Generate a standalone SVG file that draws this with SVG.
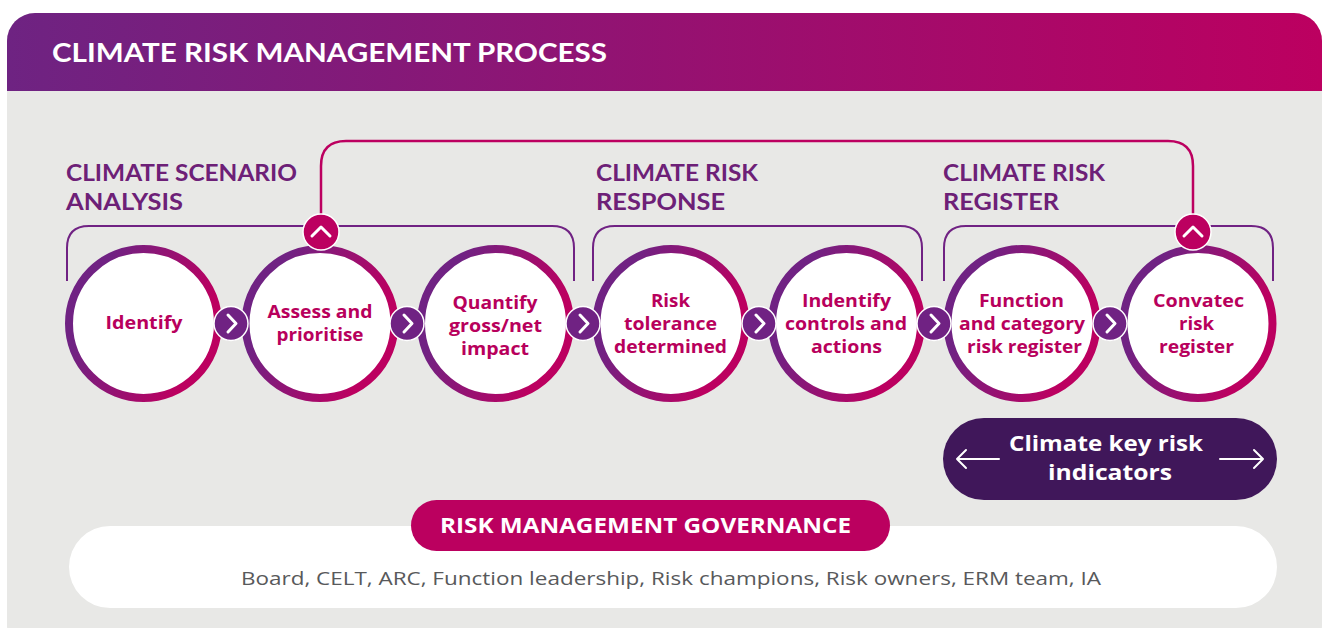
<svg xmlns="http://www.w3.org/2000/svg" width="1324" height="628" viewBox="0 0 1324 628">
<defs>
<linearGradient id="hdr" x1="0" y1="0" x2="1" y2="0">
<stop offset="0" stop-color="#6e2382"/>
<stop offset="1" stop-color="#bc0060"/>
</linearGradient>
<linearGradient id="ring" x1="0" y1="0.3" x2="1" y2="0.7">
<stop offset="0.15" stop-color="#702283"/>
<stop offset="0.85" stop-color="#bc0060"/>
</linearGradient>
<clipPath id="panelClip">
<rect x="7" y="13" width="1315" height="640" rx="28"/>
</clipPath>
<style>
.ring{fill:#ffffff;stroke:url(#ring);stroke-width:8}
.step{fill:#702283;stroke:#ffffff;stroke-width:1.5}
.up{fill:#bc0060;stroke:#ffffff;stroke-width:1.5}
.chev{fill:none;stroke:#ffffff;stroke-width:3;stroke-linecap:round;stroke-linejoin:round}
.brk{fill:none;stroke:#702283;stroke-width:2}
.brkM{fill:none;stroke:#bc0060;stroke-width:2.5}
.sec{font-family:Lato,"Liberation Sans",sans-serif;font-weight:700;font-size:23.5px;fill:#6d2077}
.ct{font-family:"Open Sans","Liberation Sans",sans-serif;font-weight:700;font-size:17.5px;fill:#b8005c;text-anchor:middle}
.wt{font-family:"Open Sans","Liberation Sans",sans-serif;font-weight:700;fill:#ffffff;text-anchor:middle}
</style>
</defs>
<g id="panel" clip-path="url(#panelClip)">
<rect x="7" y="13" width="1315" height="640" fill="#e8e8e6"/>
<rect x="7" y="13" width="1315" height="78" fill="url(#hdr)"/>
<text x="52" y="62" font-family="Lato,'Liberation Sans',sans-serif" font-weight="700" font-size="26" fill="#ffffff" textLength="555" lengthAdjust="spacingAndGlyphs">CLIMATE RISK MANAGEMENT PROCESS</text>
</g>
<g id="section-titles">
<text class="sec" x="66" y="181" textLength="231" lengthAdjust="spacingAndGlyphs">CLIMATE SCENARIO</text>
<text class="sec" x="66" y="210" textLength="117" lengthAdjust="spacingAndGlyphs">ANALYSIS</text>
<text class="sec" x="596" y="181" textLength="162" lengthAdjust="spacingAndGlyphs">CLIMATE RISK</text>
<text class="sec" x="596" y="210" textLength="129" lengthAdjust="spacingAndGlyphs">RESPONSE</text>
<text class="sec" x="943" y="181" textLength="162" lengthAdjust="spacingAndGlyphs">CLIMATE RISK</text>
<text class="sec" x="943" y="210" textLength="116" lengthAdjust="spacingAndGlyphs">REGISTER</text>
</g>
<g id="connectors">
<path class="brkM" d="M321,225 V166 Q321,141 346,141 H1168 Q1193,141 1193,166 V225"/>
<path class="brk" d="M67,281 V248 Q67,226 89,226 H552 Q574,226 574,248 V281"/>
<path class="brk" d="M593,281 V248 Q593,226 615,226 H900 Q922,226 922,248 V281"/>
<path class="brk" d="M944,281 V248 Q944,226 966,226 H1251 Q1273,226 1273,248 V281"/>
</g>
<g id="node-identify">
<circle class="ring" cx="143.5" cy="323.5" r="74.5"/>
<text class="ct" x="144" y="329" textLength="77" lengthAdjust="spacingAndGlyphs">Identify</text>
</g>
<g id="node-assess">
<circle class="ring" cx="320" cy="323.5" r="74.5"/>
<text class="ct" x="320" y="318" textLength="105" lengthAdjust="spacingAndGlyphs">Assess and</text>
<text class="ct" x="320" y="341" textLength="87" lengthAdjust="spacingAndGlyphs">prioritise</text>
</g>
<g id="node-quantify">
<circle class="ring" cx="495.5" cy="323.5" r="74.5"/>
<text class="ct" x="495" y="309" textLength="85" lengthAdjust="spacingAndGlyphs">Quantify</text>
<text class="ct" x="495.5" y="332" textLength="93" lengthAdjust="spacingAndGlyphs">gross/net</text>
<text class="ct" x="495" y="355" textLength="68" lengthAdjust="spacingAndGlyphs">impact</text>
</g>
<g id="node-tolerance">
<circle class="ring" cx="671" cy="323.5" r="74.5"/>
<text class="ct" x="670.5" y="307" textLength="39" lengthAdjust="spacingAndGlyphs">Risk</text>
<text class="ct" x="670.5" y="330" textLength="93" lengthAdjust="spacingAndGlyphs">tolerance</text>
<text class="ct" x="670.5" y="353" textLength="113" lengthAdjust="spacingAndGlyphs">determined</text>
</g>
<g id="node-controls">
<circle class="ring" cx="846.5" cy="323.5" r="74.5"/>
<text class="ct" x="846.5" y="307" textLength="89" lengthAdjust="spacingAndGlyphs">Indentify</text>
<text class="ct" x="846" y="330" textLength="122" lengthAdjust="spacingAndGlyphs">controls and</text>
<text class="ct" x="846.5" y="353" textLength="71" lengthAdjust="spacingAndGlyphs">actions</text>
</g>
<g id="node-function">
<circle class="ring" cx="1022" cy="323.5" r="74.5"/>
<text class="ct" x="1021.5" y="307" textLength="85" lengthAdjust="spacingAndGlyphs">Function</text>
<text class="ct" x="1022" y="330" textLength="126" lengthAdjust="spacingAndGlyphs">and category</text>
<text class="ct" x="1024.5" y="353" textLength="115" lengthAdjust="spacingAndGlyphs">risk register</text>
</g>
<g id="node-convatec">
<circle class="ring" cx="1198" cy="323.5" r="74.5"/>
<text class="ct" x="1198.5" y="307" textLength="91" lengthAdjust="spacingAndGlyphs">Convatec</text>
<text class="ct" x="1196.5" y="330" textLength="35" lengthAdjust="spacingAndGlyphs">risk</text>
<text class="ct" x="1196.5" y="353" textLength="75" lengthAdjust="spacingAndGlyphs">register</text>
</g>
<g id="step-arrows">
<circle class="step" cx="231" cy="323.5" r="17"/><path class="chev" d="M228,315 L236,323.5 L228,332"/>
<circle class="step" cx="407" cy="323.5" r="17"/><path class="chev" d="M404,315 L412,323.5 L404,332"/>
<circle class="step" cx="583" cy="323.5" r="17"/><path class="chev" d="M580,315 L588,323.5 L580,332"/>
<circle class="step" cx="759" cy="323.5" r="17"/><path class="chev" d="M756,315 L764,323.5 L756,332"/>
<circle class="step" cx="934" cy="323.5" r="17"/><path class="chev" d="M931,315 L939,323.5 L931,332"/>
<circle class="step" cx="1110" cy="323.5" r="17"/><path class="chev" d="M1107,315 L1115,323.5 L1107,332"/>
</g>
<g id="loop-markers">
<circle class="up" cx="321" cy="232" r="18"/><path class="chev" d="M312,236 L321,227 L330,236"/>
<circle class="up" cx="1193" cy="232" r="18"/><path class="chev" d="M1184,236 L1193,227 L1202,236"/>
</g>
<g id="node-kri">
<rect x="943" y="418" width="334" height="82" rx="41" fill="#40175a"/>
<text class="wt" x="1106" y="451" font-size="21" textLength="194" lengthAdjust="spacingAndGlyphs">Climate key risk</text>
<text class="wt" x="1110" y="480" font-size="21" textLength="124" lengthAdjust="spacingAndGlyphs">indicators</text>
<path d="M999,459 H957 M966,450 L957,459 L966,468" fill="none" stroke="#ffffff" stroke-width="2" stroke-linecap="round" stroke-linejoin="round"/>
<path d="M1220,459 H1263 M1254,450 L1263,459 L1254,468" fill="none" stroke="#ffffff" stroke-width="2" stroke-linecap="round" stroke-linejoin="round"/>
</g>
<g id="node-governance">
<rect x="69" y="526" width="1208" height="82" rx="41" fill="#ffffff"/>
<rect x="411" y="500" width="479" height="51" rx="25.5" fill="#bb005f"/>
<text class="wt" x="645.5" y="533" font-size="21" textLength="411" lengthAdjust="spacingAndGlyphs">RISK MANAGEMENT GOVERNANCE</text>
<text x="671" y="585" font-family="'Open Sans','Liberation Sans',sans-serif" font-size="19" fill="#58595b" text-anchor="middle" textLength="860" lengthAdjust="spacingAndGlyphs">Board, CELT, ARC, Function leadership, Risk champions, Risk owners, ERM team, IA</text>
</g>
</svg>
